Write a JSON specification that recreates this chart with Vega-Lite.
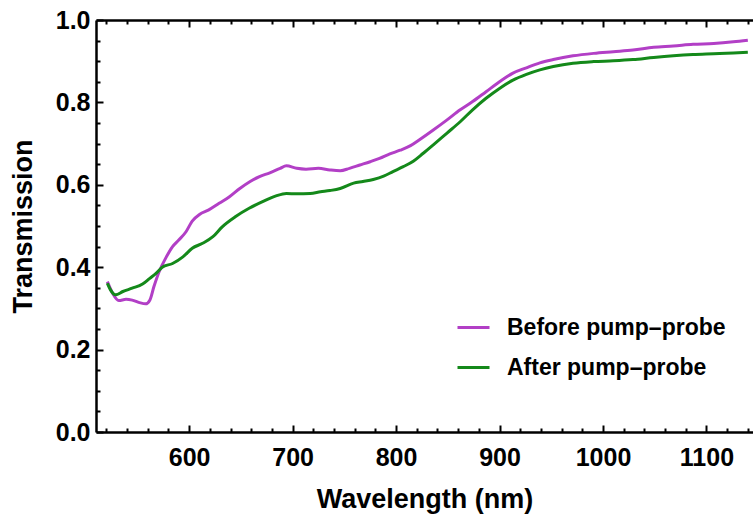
{
  "$schema": "https://vega.github.io/schema/vega-lite/v6.json",
  "width": 657,
  "height": 412,
  "autosize": {"type": "none"},
  "padding": {"left": 96, "top": 20, "right": 0, "bottom": 85},
  "background": "white",
  "config": {
    "view": {"stroke": null},
    "font": "Liberation Sans",
    "axis": {
      "grid": false,
      "domainColor": "black",
      "domainWidth": 2.5,
      "tickColor": "black",
      "tickWidth": 2,
      "labelFont": "Liberation Sans",
      "labelFontWeight": "bold",
      "labelFontSize": 25,
      "labelColor": "black",
      "titleFont": "Liberation Sans",
      "titleFontWeight": "bold",
      "titleFontSize": 27,
      "titleColor": "black",
      "labelFlush": false,
      "labelOverlap": false
    }
  },
  "datasets": {
    "spectra": [
      {"wavelength": 521, "transmission": 0.365, "series": "Before pump–probe"},
      {"wavelength": 526, "transmission": 0.337, "series": "Before pump–probe"},
      {"wavelength": 532, "transmission": 0.319, "series": "Before pump–probe"},
      {"wavelength": 539, "transmission": 0.322, "series": "Before pump–probe"},
      {"wavelength": 545, "transmission": 0.320, "series": "Before pump–probe"},
      {"wavelength": 552, "transmission": 0.314, "series": "Before pump–probe"},
      {"wavelength": 558, "transmission": 0.311, "series": "Before pump–probe"},
      {"wavelength": 562, "transmission": 0.320, "series": "Before pump–probe"},
      {"wavelength": 566, "transmission": 0.353, "series": "Before pump–probe"},
      {"wavelength": 571, "transmission": 0.389, "series": "Before pump–probe"},
      {"wavelength": 578, "transmission": 0.425, "series": "Before pump–probe"},
      {"wavelength": 584, "transmission": 0.450, "series": "Before pump–probe"},
      {"wavelength": 590, "transmission": 0.466, "series": "Before pump–probe"},
      {"wavelength": 597, "transmission": 0.486, "series": "Before pump–probe"},
      {"wavelength": 603, "transmission": 0.512, "series": "Before pump–probe"},
      {"wavelength": 610, "transmission": 0.528, "series": "Before pump–probe"},
      {"wavelength": 619, "transmission": 0.539, "series": "Before pump–probe"},
      {"wavelength": 629, "transmission": 0.555, "series": "Before pump–probe"},
      {"wavelength": 639, "transmission": 0.571, "series": "Before pump–probe"},
      {"wavelength": 649, "transmission": 0.591, "series": "Before pump–probe"},
      {"wavelength": 659, "transmission": 0.608, "series": "Before pump–probe"},
      {"wavelength": 668, "transmission": 0.620, "series": "Before pump–probe"},
      {"wavelength": 678, "transmission": 0.629, "series": "Before pump–probe"},
      {"wavelength": 688, "transmission": 0.640, "series": "Before pump–probe"},
      {"wavelength": 694, "transmission": 0.646, "series": "Before pump–probe"},
      {"wavelength": 704, "transmission": 0.640, "series": "Before pump–probe"},
      {"wavelength": 713, "transmission": 0.638, "series": "Before pump–probe"},
      {"wavelength": 725, "transmission": 0.640, "series": "Before pump–probe"},
      {"wavelength": 736, "transmission": 0.636, "series": "Before pump–probe"},
      {"wavelength": 746, "transmission": 0.634, "series": "Before pump–probe"},
      {"wavelength": 755, "transmission": 0.640, "series": "Before pump–probe"},
      {"wavelength": 765, "transmission": 0.648, "series": "Before pump–probe"},
      {"wavelength": 775, "transmission": 0.656, "series": "Before pump–probe"},
      {"wavelength": 784, "transmission": 0.664, "series": "Before pump–probe"},
      {"wavelength": 794, "transmission": 0.675, "series": "Before pump–probe"},
      {"wavelength": 804, "transmission": 0.684, "series": "Before pump–probe"},
      {"wavelength": 814, "transmission": 0.695, "series": "Before pump–probe"},
      {"wavelength": 823, "transmission": 0.710, "series": "Before pump–probe"},
      {"wavelength": 836, "transmission": 0.733, "series": "Before pump–probe"},
      {"wavelength": 849, "transmission": 0.757, "series": "Before pump–probe"},
      {"wavelength": 862, "transmission": 0.782, "series": "Before pump–probe"},
      {"wavelength": 874, "transmission": 0.802, "series": "Before pump–probe"},
      {"wavelength": 887, "transmission": 0.826, "series": "Before pump–probe"},
      {"wavelength": 900, "transmission": 0.850, "series": "Before pump–probe"},
      {"wavelength": 913, "transmission": 0.871, "series": "Before pump–probe"},
      {"wavelength": 926, "transmission": 0.884, "series": "Before pump–probe"},
      {"wavelength": 939, "transmission": 0.896, "series": "Before pump–probe"},
      {"wavelength": 952, "transmission": 0.904, "series": "Before pump–probe"},
      {"wavelength": 971, "transmission": 0.913, "series": "Before pump–probe"},
      {"wavelength": 991, "transmission": 0.919, "series": "Before pump–probe"},
      {"wavelength": 1010, "transmission": 0.923, "series": "Before pump–probe"},
      {"wavelength": 1029, "transmission": 0.927, "series": "Before pump–probe"},
      {"wavelength": 1049, "transmission": 0.934, "series": "Before pump–probe"},
      {"wavelength": 1068, "transmission": 0.937, "series": "Before pump–probe"},
      {"wavelength": 1087, "transmission": 0.941, "series": "Before pump–probe"},
      {"wavelength": 1107, "transmission": 0.943, "series": "Before pump–probe"},
      {"wavelength": 1126, "transmission": 0.947, "series": "Before pump–probe"},
      {"wavelength": 1140, "transmission": 0.951, "series": "Before pump–probe"},
      {"wavelength": 521, "transmission": 0.361, "series": "After pump–probe"},
      {"wavelength": 524, "transmission": 0.345, "series": "After pump–probe"},
      {"wavelength": 529, "transmission": 0.333, "series": "After pump–probe"},
      {"wavelength": 536, "transmission": 0.341, "series": "After pump–probe"},
      {"wavelength": 545, "transmission": 0.349, "series": "After pump–probe"},
      {"wavelength": 555, "transmission": 0.359, "series": "After pump–probe"},
      {"wavelength": 562, "transmission": 0.373, "series": "After pump–probe"},
      {"wavelength": 568, "transmission": 0.385, "series": "After pump–probe"},
      {"wavelength": 574, "transmission": 0.400, "series": "After pump–probe"},
      {"wavelength": 584, "transmission": 0.409, "series": "After pump–probe"},
      {"wavelength": 594, "transmission": 0.425, "series": "After pump–probe"},
      {"wavelength": 603, "transmission": 0.446, "series": "After pump–probe"},
      {"wavelength": 613, "transmission": 0.458, "series": "After pump–probe"},
      {"wavelength": 623, "transmission": 0.474, "series": "After pump–probe"},
      {"wavelength": 632, "transmission": 0.498, "series": "After pump–probe"},
      {"wavelength": 645, "transmission": 0.523, "series": "After pump–probe"},
      {"wavelength": 658, "transmission": 0.543, "series": "After pump–probe"},
      {"wavelength": 671, "transmission": 0.559, "series": "After pump–probe"},
      {"wavelength": 684, "transmission": 0.573, "series": "After pump–probe"},
      {"wavelength": 694, "transmission": 0.579, "series": "After pump–probe"},
      {"wavelength": 704, "transmission": 0.578, "series": "After pump–probe"},
      {"wavelength": 717, "transmission": 0.579, "series": "After pump–probe"},
      {"wavelength": 727, "transmission": 0.583, "series": "After pump–probe"},
      {"wavelength": 736, "transmission": 0.586, "series": "After pump–probe"},
      {"wavelength": 746, "transmission": 0.591, "series": "After pump–probe"},
      {"wavelength": 759, "transmission": 0.604, "series": "After pump–probe"},
      {"wavelength": 768, "transmission": 0.608, "series": "After pump–probe"},
      {"wavelength": 778, "transmission": 0.613, "series": "After pump–probe"},
      {"wavelength": 788, "transmission": 0.621, "series": "After pump–probe"},
      {"wavelength": 797, "transmission": 0.632, "series": "After pump–probe"},
      {"wavelength": 807, "transmission": 0.644, "series": "After pump–probe"},
      {"wavelength": 817, "transmission": 0.658, "series": "After pump–probe"},
      {"wavelength": 826, "transmission": 0.676, "series": "After pump–probe"},
      {"wavelength": 836, "transmission": 0.697, "series": "After pump–probe"},
      {"wavelength": 849, "transmission": 0.725, "series": "After pump–probe"},
      {"wavelength": 862, "transmission": 0.753, "series": "After pump–probe"},
      {"wavelength": 874, "transmission": 0.782, "series": "After pump–probe"},
      {"wavelength": 887, "transmission": 0.810, "series": "After pump–probe"},
      {"wavelength": 900, "transmission": 0.834, "series": "After pump–probe"},
      {"wavelength": 913, "transmission": 0.854, "series": "After pump–probe"},
      {"wavelength": 926, "transmission": 0.868, "series": "After pump–probe"},
      {"wavelength": 939, "transmission": 0.879, "series": "After pump–probe"},
      {"wavelength": 952, "transmission": 0.887, "series": "After pump–probe"},
      {"wavelength": 971, "transmission": 0.895, "series": "After pump–probe"},
      {"wavelength": 991, "transmission": 0.899, "series": "After pump–probe"},
      {"wavelength": 1010, "transmission": 0.901, "series": "After pump–probe"},
      {"wavelength": 1029, "transmission": 0.904, "series": "After pump–probe"},
      {"wavelength": 1049, "transmission": 0.909, "series": "After pump–probe"},
      {"wavelength": 1068, "transmission": 0.913, "series": "After pump–probe"},
      {"wavelength": 1087, "transmission": 0.916, "series": "After pump–probe"},
      {"wavelength": 1107, "transmission": 0.918, "series": "After pump–probe"},
      {"wavelength": 1126, "transmission": 0.920, "series": "After pump–probe"},
      {"wavelength": 1140, "transmission": 0.922, "series": "After pump–probe"}
    ]
  },
  "data": {"name": "spectra"},
  "resolve": {"axis": {"x": "independent", "y": "independent"}},
  "layer": [
    {
      "mark": {"type": "line", "strokeWidth": 3, "interpolate": "monotone"},
      "encoding": {
        "x": {
          "field": "wavelength",
          "type": "quantitative",
          "scale": {"domain": [510, 1145], "nice": false, "zero": false},
          "axis": {
            "orient": "bottom",
            "title": "Wavelength (nm)",
            "values": [600, 700, 800, 900, 1000, 1100],
            "format": "d",
            "tickSize": -7,
            "labelPadding": 20,
            "titlePadding": 16
          }
        },
        "y": {
          "field": "transmission",
          "type": "quantitative",
          "scale": {"domain": [0, 1], "nice": false},
          "axis": {
            "orient": "left",
            "title": "Transmission",
            "values": [0, 0.2, 0.4, 0.6, 0.8, 1],
            "format": ".1f",
            "tickSize": -7,
            "labelPadding": 13,
            "titlePadding": 18
          }
        },
        "color": {
          "field": "series",
          "type": "nominal",
          "scale": {"domain": ["Before pump–probe", "After pump–probe"], "range": ["#b23fc6", "#14891a"]},
          "legend": {
            "title": null,
            "orient": "none",
            "legendX": 360,
            "legendY": 290,
            "symbolType": "stroke",
            "symbolSize": 1024,
            "symbolStrokeWidth": 3,
            "labelFont": "Liberation Sans",
            "labelFontWeight": "bold",
            "labelFontSize": 23,
            "labelColor": "black",
            "labelOffset": 16,
            "rowPadding": 10,
            "labelLimit": 400
          }
        }
      }
    },
    {
      "mark": {"type": "point", "opacity": 0},
      "encoding": {
        "x": {
          "field": "wavelength",
          "type": "quantitative",
          "axis": {
            "orient": "bottom",
            "title": null,
            "labels": false,
            "domain": false,
            "values": [520, 540, 560, 580, 620, 640, 660, 680, 720, 740, 760, 780, 820, 840, 860, 880, 920, 940, 960, 980, 1020, 1040, 1060, 1080, 1120, 1140],
            "tickSize": -4
          }
        },
        "y": {
          "field": "transmission",
          "type": "quantitative",
          "axis": {
            "orient": "left",
            "title": null,
            "labels": false,
            "domain": false,
            "values": [0.05, 0.1, 0.15, 0.25, 0.3, 0.35, 0.45, 0.5, 0.55, 0.65, 0.7, 0.75, 0.85, 0.9, 0.95],
            "tickSize": -4
          }
        }
      }
    },
    {
      "mark": {"type": "point", "opacity": 0},
      "encoding": {
        "x": {
          "field": "wavelength",
          "type": "quantitative",
          "axis": {
            "orient": "top",
            "title": null,
            "labels": false,
            "values": [600, 700, 800, 900, 1000, 1100],
            "tickSize": -7
          }
        }
      }
    },
    {
      "mark": {"type": "point", "opacity": 0},
      "encoding": {
        "x": {
          "field": "wavelength",
          "type": "quantitative",
          "axis": {
            "orient": "top",
            "title": null,
            "labels": false,
            "domain": false,
            "values": [520, 540, 560, 580, 620, 640, 660, 680, 720, 740, 760, 780, 820, 840, 860, 880, 920, 940, 960, 980, 1020, 1040, 1060, 1080, 1120, 1140],
            "tickSize": -4
          }
        }
      }
    }
  ]
}
